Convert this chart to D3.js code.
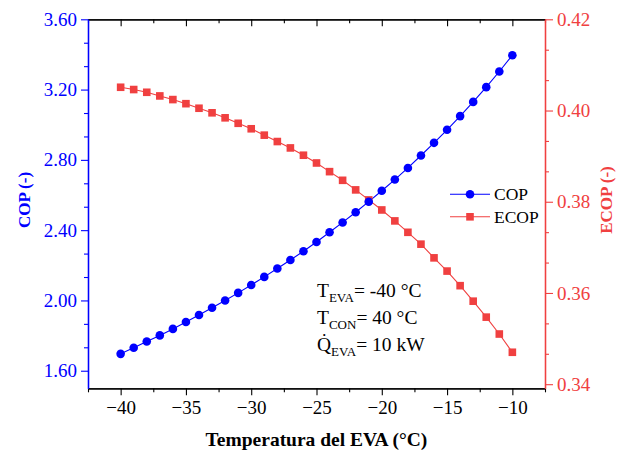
<!DOCTYPE html>
<html><head><meta charset="utf-8">
<script src="https://cdn.jsdelivr.net/npm/d3@7"></script>
<style>
body{margin:0;background:#fff}
svg{display:block}
text{font-family:"Liberation Serif","Times New Roman",serif}
</style>
</head><body><svg id="c" width="623" height="452"></svg>
<script>
const temps = [-40,-39,-38,-37,-36,-35,-34,-33,-32,-31,-30,-29,-28,-27,-26,-25,-24,-23,-22,-21,-20,-19,-18,-17,-16,-15,-14,-13,-12,-11,-10];
const cop = [1.696,1.731,1.766,1.801,1.838,1.877,1.917,1.958,2.000,2.043,2.088,2.134,2.182,2.230,2.280,2.333,2.388,2.444,2.502,2.562,2.624,2.688,2.754,2.825,2.897,2.971,3.049,3.130,3.214,3.303,3.395];
const ecop = [0.4051,0.4046,0.4040,0.4032,0.4024,0.4015,0.4005,0.3995,0.3984,0.3972,0.3960,0.3946,0.3932,0.3918,0.3902,0.3885,0.3866,0.3847,0.3826,0.3804,0.3782,0.3758,0.3733,0.3707,0.3677,0.3648,0.3616,0.3582,0.3547,0.3510,0.3470];
const xTicks = [-40,-35,-30,-25,-20,-15,-10];
const copTicks = [1.6,2.0,2.4,2.8,3.2,3.6];
const ecopTicks = [0.34,0.36,0.38,0.40,0.42];
const seriesNames = ["COP","ECOP"];
const xTitle = "Temperatura del EVA (°C)";
const yLeftTitle = "COP (-)";
const yRightTitle = "ECOP (-)";

const BLUE = "#0000FF", RED = "#F04040";
const L = 88, R = 545, T = 19.3, B = 388.3;
const svg = d3.select("#c");

const x = d3.scaleLinear().domain([-42.5,-7.5]).range([L,R]);
const yL = d3.scaleLinear().domain([1.5,3.6]).range([B,T]);
const yR = d3.scaleLinear().domain([0.3391,0.42]).range([B,T]);

function minors(majors, lo, hi, n){
  const step = (majors[1]-majors[0])/n;
  const out = [];
  for (let v = majors[0]-step*n; v <= majors[majors.length-1]+step*n+1e-9; v += step){
    const isMajor = majors.some(m => Math.abs(m-v) < step/10);
    if (!isMajor && v >= lo-1e-9 && v <= hi+1e-9) out.push(v);
  }
  return out;
}

function styleAxis(g, color, fs){
  g.select(".domain").attr("stroke", color).attr("stroke-width", 1.3);
  g.selectAll(".tick line").attr("stroke", color).attr("stroke-width", 1.1);
  g.selectAll(".tick text").attr("fill", color).style("font-size", fs+"px");
}

// Bottom axis
const gx = svg.append("g").attr("transform",`translate(0,${B})`)
  .call(d3.axisBottom(x).tickValues(xTicks).tickFormat(d3.format("d")).tickSizeInner(7).tickSizeOuter(0).tickPadding(5));
styleAxis(gx, "#000", 19);
const gxm = svg.append("g").attr("transform",`translate(0,${B})`)
  .call(d3.axisBottom(x).tickValues(minors(xTicks,-42.5,-7.5,2)).tickFormat("").tickSizeInner(4).tickSizeOuter(0));
styleAxis(gxm, "#000", 19);
// Top axis (inward ticks)
const gt = svg.append("g").attr("transform",`translate(0,${T})`)
  .call(d3.axisTop(x).tickValues(xTicks).tickFormat("").tickSizeInner(-7).tickSizeOuter(0));
styleAxis(gt, "#000", 19);
const gtm = svg.append("g").attr("transform",`translate(0,${T})`)
  .call(d3.axisTop(x).tickValues(minors(xTicks,-42.5,-7.5,2)).tickFormat("").tickSizeInner(-4).tickSizeOuter(0));
styleAxis(gtm, "#000", 19);

// Left axis
const gl = svg.append("g").attr("transform",`translate(${L},0)`)
  .call(d3.axisLeft(yL).tickValues(copTicks).tickFormat(d3.format(".2f")).tickSizeInner(7).tickSizeOuter(0).tickPadding(4));
styleAxis(gl, BLUE, 19);
const glm = svg.append("g").attr("transform",`translate(${L},0)`)
  .call(d3.axisLeft(yL).tickValues(minors(copTicks,1.5,3.6,3)).tickFormat("").tickSizeInner(4).tickSizeOuter(0));
styleAxis(glm, BLUE, 19);

// Right axis
const gr = svg.append("g").attr("transform",`translate(${R},0)`)
  .call(d3.axisRight(yR).tickValues(ecopTicks).tickFormat(d3.format(".2f")).tickSizeInner(8).tickSizeOuter(0).tickPadding(4));
styleAxis(gr, RED, 19);
const grm = svg.append("g").attr("transform",`translate(${R},0)`)
  .call(d3.axisRight(yR).tickValues(minors(ecopTicks,0.3391,0.42,3)).tickFormat("").tickSizeInner(4).tickSizeOuter(0));
styleAxis(grm, RED, 19);

// Series
const copData = temps.map((t,i)=>({t, v:cop[i]}));
const ecopData = temps.map((t,i)=>({t, v:ecop[i]}));
svg.append("path").datum(ecopData).attr("fill","none").attr("stroke",RED).attr("stroke-width",1.1)
  .attr("d", d3.line().x(d=>x(d.t)).y(d=>yR(d.v)));
svg.append("path").datum(copData).attr("fill","none").attr("stroke",BLUE).attr("stroke-width",1.1)
  .attr("d", d3.line().x(d=>x(d.t)).y(d=>yL(d.v)));
const sq = 7.6;
svg.append("g").selectAll("rect").data(ecopData).join("rect")
  .attr("x", d=>x(d.t)-sq/2).attr("y", d=>yR(d.v)-sq/2).attr("width",sq).attr("height",sq).attr("fill",RED);
svg.append("g").selectAll("circle").data(copData).join("circle")
  .attr("cx", d=>x(d.t)).attr("cy", d=>yL(d.v)).attr("r",4.3).attr("fill",BLUE);

// Legend
const lg = svg.append("g");
[[BLUE,"c"],[RED,"s"]].forEach(([col,shape],i)=>{
  const yy = 194.3 + i*22.5;
  lg.append("line").attr("x1",450).attr("x2",490).attr("y1",yy).attr("y2",yy).attr("stroke",col).attr("stroke-width",1.1);
  if (shape==="c") lg.append("circle").attr("cx",470).attr("cy",yy).attr("r",4.3).attr("fill",col);
  else lg.append("rect").attr("x",470-sq/2).attr("y",yy-sq/2).attr("width",sq).attr("height",sq).attr("fill",col);
  lg.append("text").attr("x",494).attr("y",yy+6).style("font-size","17.5px").attr("fill","#000").text(seriesNames[i]);
});

// Annotation
const ann = [["T","EVA","= -40 °C"],["T","CON","= 40 °C"],["Q\u0307","EVA","= 10 kW"]];
ann.forEach((a,i)=>{
  const t = svg.append("text").attr("x",317).attr("y",297+i*27).style("font-size","19.5px").attr("fill","#000");
  t.append("tspan").text(a[0]);
  t.append("tspan").attr("dy",5).style("font-size","13px").text(a[1]);
  t.append("tspan").attr("dy",-5).text(a[2]);
});

// Titles
svg.append("text").attr("x",316.5).attr("y",446).attr("text-anchor","middle")
  .style("font-size","19.5px").style("font-weight","bold").attr("fill","#000").text(xTitle);
svg.append("text").attr("transform","translate(30,200) rotate(-90)").attr("text-anchor","middle")
  .style("font-size","17px").style("font-weight","bold").attr("fill",BLUE).text(yLeftTitle);
svg.append("text").attr("transform","translate(612,200) rotate(-90)").attr("text-anchor","middle")
  .style("font-size","17px").style("font-weight","bold").attr("fill",RED).text(yRightTitle);
</script>
</body></html>
